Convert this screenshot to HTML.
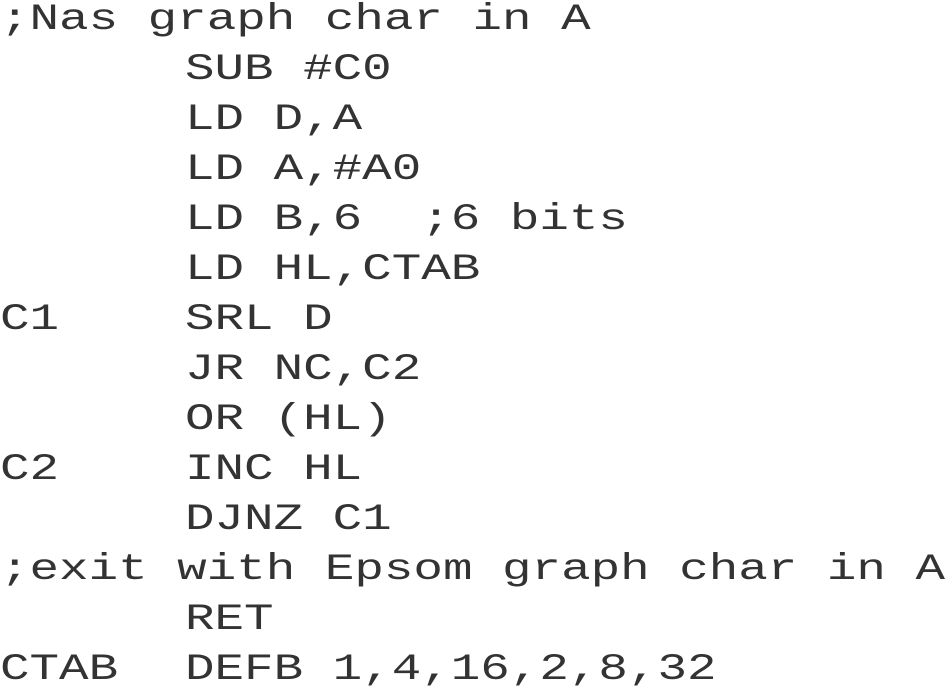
<!DOCTYPE html>
<html><head><meta charset="utf-8"><style>
html,body{margin:0;padding:0;background:#fff;}
body{width:945px;height:684px;position:relative;overflow:hidden;}
.l{position:absolute;left:0;font-family:"Liberation Mono",monospace;font-size:37px;line-height:54px;height:54px;color:#333;white-space:pre;transform-origin:0 0;transform:scaleX(1.33);letter-spacing:0;}
</style></head><body>
<div class="l" style="top:-7px">;Nas graph char in A</div>
<div class="l" style="top:43px;left:185px">SUB #C0</div>
<div class="l" style="top:93px;left:185px">LD D,A</div>
<div class="l" style="top:143px;left:185px">LD A,#A0</div>
<div class="l" style="top:193px;left:185px">LD B,6  ;6 bits</div>
<div class="l" style="top:243px;left:185px">LD HL,CTAB</div>
<div class="l" style="top:293px">C1</div>
<div class="l" style="top:293px;left:185px">SRL D</div>
<div class="l" style="top:343px;left:185px">JR NC,C2</div>
<div class="l" style="top:393px;left:185px">OR (HL)</div>
<div class="l" style="top:443px">C2</div>
<div class="l" style="top:443px;left:185px">INC HL</div>
<div class="l" style="top:493px;left:185px">DJNZ C1</div>
<div class="l" style="top:543px">;exit with Epsom graph char in A</div>
<div class="l" style="top:593px;left:185px">RET</div>
<div class="l" style="top:643px">CTAB</div>
<div class="l" style="top:643px;left:185px">DEFB 1,4,16,2,8,32</div>
</body></html>
